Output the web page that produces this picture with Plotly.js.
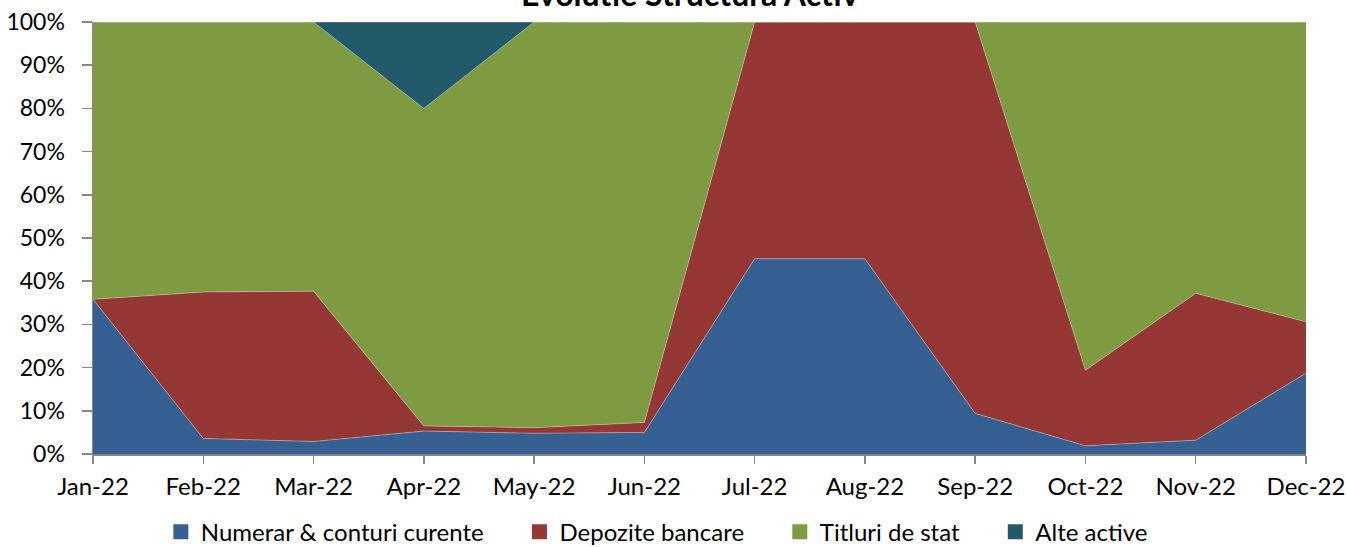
<!DOCTYPE html>
<html>
<head>
<meta charset="utf-8">
<script src="https://cdn.plot.ly/plotly-3.0.1.min.js"></script>
<style>html,body{margin:0;padding:0;background:#fff}#chart{width:1346px;height:547px}</style>
</head>
<body>
<div id="chart"></div>
<script>
const months = ["Jan-22","Feb-22","Mar-22","Apr-22","May-22","Jun-22","Jul-22","Aug-22","Sep-22","Oct-22","Nov-22","Dec-22"];
const numerar = [35.8, 3.6, 2.9, 5.3, 4.8, 5.0, 45.2, 45.2, 9.4, 1.9, 3.2, 18.7];
const depozite = [0.0, 33.9, 34.8, 1.2, 1.3, 2.3, 54.8, 54.8, 90.6, 17.5, 34.0, 11.9];
const titluri = [64.2, 62.5, 62.3, 73.5, 93.9, 92.7, 0.0, 0.0, 0.0, 80.6, 62.8, 69.4];
const alte = [0, 0, 0, 20.0, 0, 0, 0, 0, 0, 0, 0, 0];

const names = ["Numerar & conturi curente", "Depozite bancare", "Titluri de stat", "Alte active"];
const colors = ["#376092", "#953735", "#7E9B41", "#235A69"];
const series = [numerar, depozite, titluri, alte];

const traces = series.map((s, i) => ({
  x: months, y: s, name: names[i], type: 'scatter', mode: 'lines',
  stackgroup: 'one', groupnorm: i === 0 ? 'percent' : undefined,
  fillcolor: colors[i],
  line: {width: 0.6, color: 'rgba(200,200,200,0.8)'},
  showlegend: false
}));
// legend entries with square swatches
const pad = '\u00A0\u00A0\u00A0\u00A0\u00A0';
names.forEach((n, i) => traces.push({
  x: [null], y: [null], name: i < names.length - 1 ? n + pad : n, type: 'scatter', mode: 'markers',
  marker: {symbol: 'square', size: 15, color: colors[i]}, showlegend: true
}));

const font = "Lato, 'Open Sans', sans-serif";
const layout = {
  width: 1346, height: 547,
  margin: {l: 93, r: 40, t: 22, b: 93},
  paper_bgcolor: '#fff', plot_bgcolor: '#fff',
  annotations: [{text: '<b>Evolutie Structura Activ</b>', xref: 'paper', yref: 'paper',
    x: 0.492, xanchor: 'center', y: 1.066, yanchor: 'middle', showarrow: false,
    font: {family: font, size: 32, color: '#000'}}],
  showlegend: true,
  legend: {orientation: 'h', x: 0.488, xanchor: 'center', xref: 'container', y: 0.027, yanchor: 'middle', yref: 'container',
           font: {family: font, size: 24, color: '#000'}, traceorder: 'normal', itemwidth: 30},
  xaxis: {type: 'category', range: [0, 11], showgrid: false, zeroline: false,
          showline: true, linecolor: '#868686', linewidth: 1.5,
          ticks: 'outside', ticklen: 8, tickcolor: '#868686', tickwidth: 1.5,
          ticklabelstandoff: 3,
          tickfont: {family: font, size: 24, color: '#000'}},
  yaxis: {range: [0, 100], dtick: 10, ticksuffix: '%', showgrid: false, zeroline: false,
          showline: true, linecolor: '#868686', linewidth: 1.5,
          ticks: 'outside', ticklen: 10, tickcolor: '#868686', tickwidth: 1.5,
          ticklabelstandoff: 12,
          tickfont: {family: font, size: 23, color: '#000'}}
};
Plotly.newPlot('chart', traces, layout, {displayModeBar: false, staticPlot: true});
</script>
</body>
</html>
